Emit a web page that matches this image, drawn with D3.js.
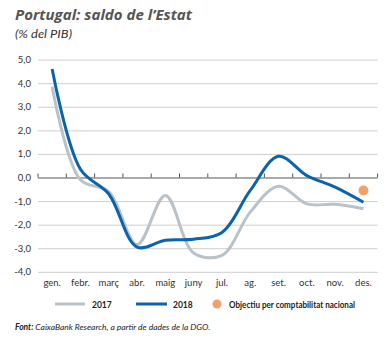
<!DOCTYPE html>
<html><head><meta charset="utf-8">
<script src="https://cdn.jsdelivr.net/npm/d3@7"></script>
<style>body{margin:0;background:#fff}</style>
</head><body><svg id="c" width="387" height="338"></svg>
<script>
const months = ["gen.","febr.","març","abr.","maig","juny","jul.","ag.","set.","oct.","nov.","des."];
const s2017 = [3.85,-0.1,-0.6,-2.85,-0.76,-3.2,-3.3,-1.47,-0.37,-1.12,-1.14,-1.33];
const s2018 = [4.6,0.35,-0.7,-2.95,-2.66,-2.62,-2.33,-0.55,0.9,0.08,-0.41,-1.05];
const target = {month:"des.", value:-0.55};
const yTicks = [5,4,3,2,1,0,-1,-2,-3,-4];

const font = "Lato, 'Open Sans', sans-serif";
const svg = d3.select("#c").style("font-family", font);
const x = d3.scaleBand().domain(months).range([38,377.6]);
const y = d3.scaleLinear().domain([-4,5]).range([271.8,59.6]);
const fmt = v => d3.format(".1f")(v).replace(".",",").replace("−","-");

// title
svg.append("text").attr("x",15).attr("y",20).text("Portugal: saldo de l’Estat")
  .attr("font-size",15).attr("font-weight","bold").attr("font-style","italic").attr("fill","#555")
  .attr("font-family","'Open Sans', sans-serif").attr("textLength",177).attr("lengthAdjust","spacingAndGlyphs");
svg.append("text").attr("x",15).attr("y",38).text("(% del PIB)")
  .attr("font-size",11.5).attr("font-style","italic").attr("fill","#333")
  .attr("textLength",57).attr("lengthAdjust","spacingAndGlyphs");

// grid
const yAxis = d3.axisLeft(y).tickValues(yTicks).tickSize(-(377.6-38)).tickFormat(fmt);
const gy = svg.append("g").attr("transform","translate(38,0)").call(yAxis);
gy.select(".domain").remove();
gy.selectAll(".tick line").attr("stroke","#cfcfcf").attr("stroke-width",1);
gy.selectAll(".tick text").attr("x",-7).attr("font-size",9.5).attr("fill","#333").attr("font-family",font);
gy.selectAll(".tick").filter(d=>d===0).select("line").attr("stroke","#555");

// zero axis ticks at band boundaries
const bounds = months.map(m=>x(m)).concat([x.range()[1]]);
svg.append("g").selectAll("line").data(bounds).join("line")
  .attr("x1",d=>d).attr("x2",d=>d).attr("y1",y(0)).attr("y2",y(0)-4)
  .attr("stroke","#555").attr("stroke-width",1);

// x labels
const xAxis = d3.axisBottom(x).tickSize(0).tickPadding(0);
const gx = svg.append("g").attr("transform","translate(0,279)").call(xAxis);
gx.select(".domain").remove();
gx.selectAll(".tick text").attr("font-size",9.5).attr("fill","#333").attr("font-family",font);

// lines
const line = d3.line().x((d,i)=>x(months[i])+x.bandwidth()/2).y(d=>y(d)).curve(d3.curveCatmullRom.alpha(0.5));
svg.append("path").attr("d",line(s2017)).attr("fill","none").attr("stroke","#b8c2c8").attr("stroke-width",3);
svg.append("path").attr("d",line(s2018)).attr("fill","none").attr("stroke","#0a64ad").attr("stroke-width",3);
svg.append("circle").attr("cx",x(target.month)+x.bandwidth()/2).attr("cy",y(target.value)).attr("r",5).attr("fill","#f4a06c");

// legend
const lg = svg.append("g").attr("font-size",8.5).attr("fill","#222").attr("font-weight","bold");
lg.append("line").attr("x1",55).attr("x2",85).attr("y1",304).attr("y2",304).attr("stroke","#b8c2c8").attr("stroke-width",3);
lg.append("text").attr("x",92).attr("y",307.5).text("2017");
lg.append("line").attr("x1",136).attr("x2",167).attr("y1",304).attr("y2",304).attr("stroke","#0a64ad").attr("stroke-width",3);
lg.append("text").attr("x",173).attr("y",307.5).text("2018");
lg.append("circle").attr("cx",217).attr("cy",304).attr("r",4.5).attr("fill","#f4a06c");
lg.append("text").attr("x",229).attr("y",307.5).text("Objectiu per comptabilitat nacional")
  .attr("textLength",126).attr("lengthAdjust","spacingAndGlyphs");

// source
const src = svg.append("text").attr("x",15).attr("y",330).attr("font-size",8.5).attr("font-style","italic").attr("fill","#222");
src.append("tspan").attr("font-weight","bold").text("Font: ");
src.append("tspan").text("CaixaBank Research, a partir de dades de la DGO.");
</script></body></html>
